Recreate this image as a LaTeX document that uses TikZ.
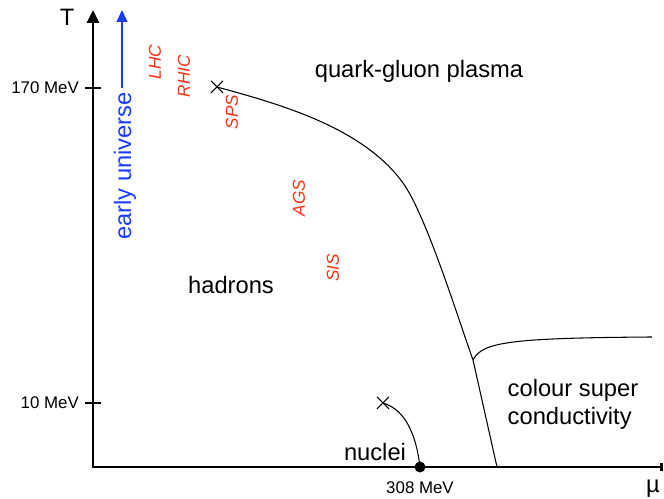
\documentclass[tikz,border=0pt]{standalone}
\usepackage{fontspec}
\setmainfont{Liberation Sans}
\usetikzlibrary{arrows.meta,shapes.misc}

\definecolor{universe}{RGB}{26,60,255}
\definecolor{collider}{RGB}{255,48,16}

\begin{document}
\begin{tikzpicture}[
  x=0.02cm, y=-0.02cm,
  axis/.style={line width=1.7pt},
  phase line/.style={line width=0.6pt},
  region/.style={font=\fontsize{13.5}{16}\selectfont, align=left},
  tick label/.style={font=\fontsize{9.6}{11}\selectfont},
  collider label/.style={text=collider, rotate=90,
    font=\fontsize{9.8}{12}\selectfont\itshape},
  crit point/.style={draw, cross out, line width=0.6pt,
    minimum size=0.22cm, inner sep=0pt},
]
  \useasboundingbox (0,0) rectangle (664,499);

  % Axes: T upwards, mu to the right
  \coordinate (O) at (93,467);
  \coordinate (T_end) at (93,10);
  \coordinate (mu_end) at (663,467);
  \draw[axis, {Triangle[length=0.26cm,width=0.24cm]}-{Bar[width=0.16cm]}]
    (T_end) -- (O) -- (mu_end);
  \node[region] (T) at (67,17) {T};
  \node[region] (mu) at (653,489) {µ};

  % Ticks on the T axis
  \foreach \val/\y in {170/88, 10/403} {
    \draw[line width=1.3pt] (85,\y) coordinate (t_\val) -- (101,\y);
    \node[tick label, anchor=east] (tl_\val) at (t_\val) {\val\ MeV};
  }

  % Nuclear matter point on the mu axis
  \node[circle, fill, minimum size=0.22cm, inner sep=0pt] (mu0) at (420,467) {};
  \node[tick label] (mu0_label) at (420,488) {308 MeV};

  % Early universe arrow
  \coordinate (eu_start) at (122,88);
  \coordinate (eu_end) at (122,10);
  \draw[universe, line width=0.6pt, -{Triangle[length=0.24cm,width=0.22cm]}]
    (eu_start) -- (eu_end);
  \node[region, text=universe, rotate=90] (eu) at (125,166) {early universe};

  % Critical points
  \node[crit point] (cp_qgp) at (217,87) {};
  \node[crit point] (cp_nuc) at (383,403) {};

  % Phase boundaries
  \coordinate (bend) at (403,183);
  \coordinate (junction) at (473,360);
  \coordinate (qgp_end) at (497,467);
  \coordinate (csc_end) at (652,337);
  \draw[phase line] (cp_qgp.center) .. controls (275,103) and (362,126) .. (bend)
    .. controls (426,215) and (458,318) .. (junction) -- (qgp_end);
  \draw[phase line] (junction) .. controls (482,342) and (510,338) .. (csc_end);
  \draw[phase line] (cp_nuc.center) .. controls (400,408) and (415,425) .. (mu0.center);

  % Heavy ion experiments
  \foreach \name/\x/\y in {LHC/155/62, RHIC/184/76, SPS/232/112, AGS/299/198, SIS/333/268} {
    \node[collider label] (c_\name) at (\x,\y) {\name};
  }

  % Phases
  \node[region] (qgp) at (419,71) {quark-gluon plasma};
  \node[region] (hadrons) at (231,285) {hadrons};
  \node[region] (nuclei) at (375,452) {nuclei};
  \node[region] (csc) at (573,404) {colour super\\conductivity};

\end{tikzpicture}
\end{document}
